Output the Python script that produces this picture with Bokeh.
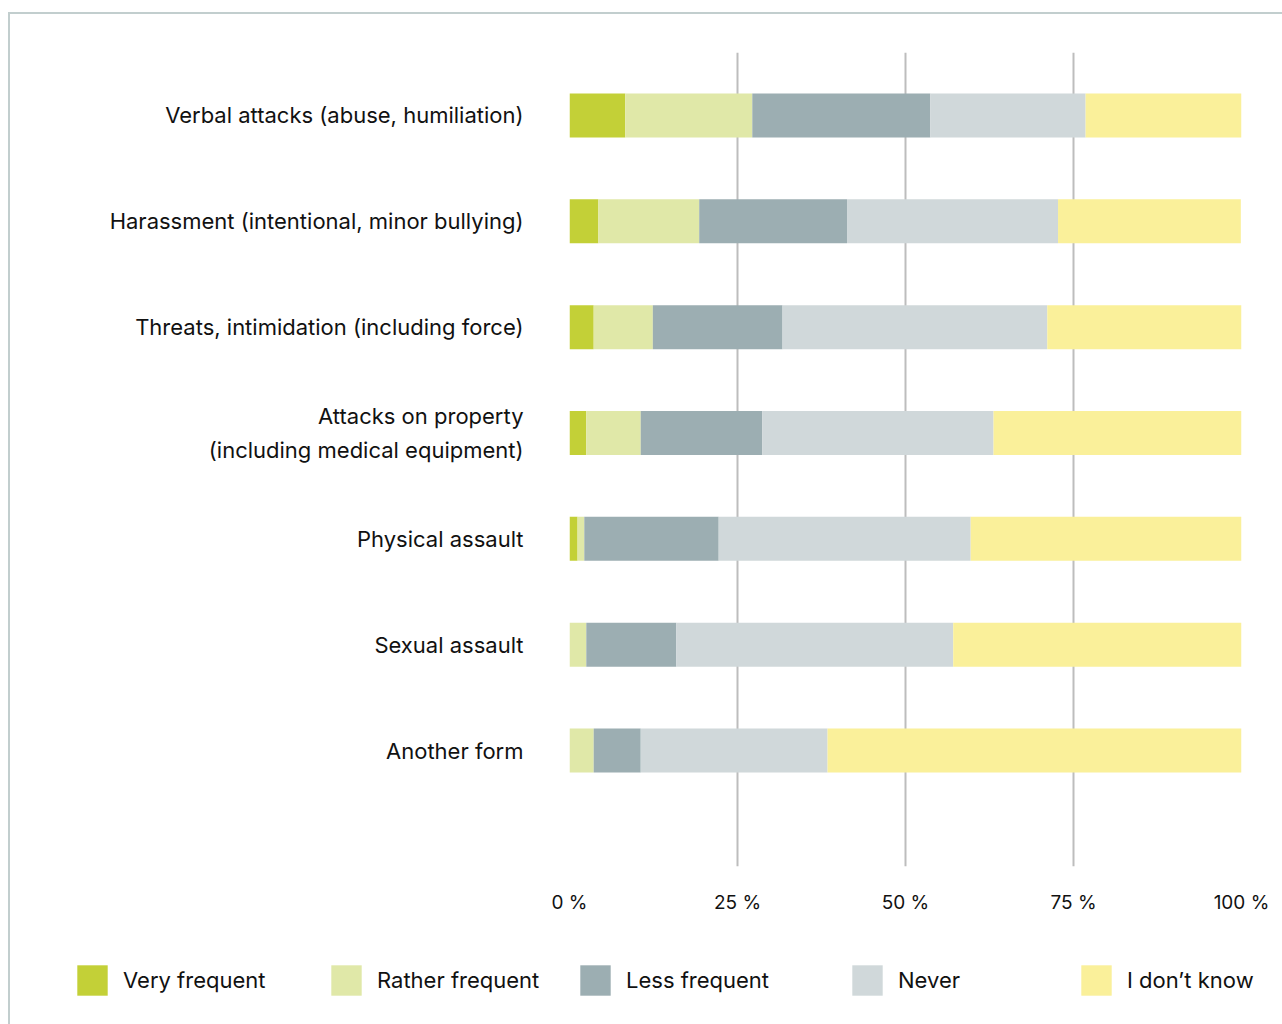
from bokeh.plotting import figure
from bokeh.layouts import column
from bokeh.models import ColumnDataSource, Range1d, FixedTicker, Legend, LegendItem
from bokeh.embed import file_html
from bokeh.resources import INLINE

categories = [
    "Verbal attacks (abuse, humiliation)",
    "Harassment (intentional, minor bullying)",
    "Threats, intimidation (including force)",
    "Attacks on property\n(including medical equipment)",
    "Physical assault",
    "Sexual assault",
    "Another form",
]
very_frequent = [8.3, 4.3, 3.6, 2.5, 1.2, 0.0, 0.0]
rather_frequent = [18.9, 15.0, 8.8, 8.1, 1.0, 2.5, 3.6]
less_frequent = [26.5, 22.0, 19.3, 18.1, 20.0, 13.4, 7.0]
never = [23.1, 31.4, 39.4, 34.4, 37.5, 41.2, 27.8]
dont_know = [23.2, 27.2, 28.9, 36.9, 40.3, 42.9, 61.6]
series_names = ["Very frequent", "Rather frequent", "Less frequent", "Never", "I don\u2019t know"]
x_ticks = [0, 25, 50, 75, 100]
x_tick_labels = ["0 %", "25 %", "50 %", "75 %", "100 %"]

colors = ["#c3d037", "#e0e8a8", "#9caeb2", "#d0d8da", "#faf09a"]
FONT = "Inter"
TEXT = "#111111"

keys = ["vf", "rf", "lf", "nv", "dk"]
source = ColumnDataSource(dict(
    y=list(range(len(categories))),
    vf=very_frequent, rf=rather_frequent, lf=less_frequent, nv=never, dk=dont_know,
))

W = 1272
p = figure(width=W, height=910, output_backend="svg", toolbar_location=None,
           x_range=Range1d(0, 100), y_range=Range1d(len(categories) - 1 + 1.096, -0.595),
           min_border_left=559, min_border_right=41, min_border_top=38, min_border_bottom=58)
p.outline_line_color = None
p.border_fill_color = "white"
p.frame_align = False

p.hbar_stack(keys, y="y", height=0.416, color=colors, line_color=None, source=source)

p.xaxis.ticker = FixedTicker(ticks=x_ticks)
p.xaxis.major_label_overrides = {t: l for t, l in zip(x_ticks, x_tick_labels)}
p.xaxis.axis_line_color = None
p.xaxis.major_tick_line_color = None
p.xaxis.minor_tick_line_color = None
p.xaxis.major_tick_out = 0
p.xaxis.major_label_standoff = 24
p.xaxis.major_label_text_font = FONT
p.xaxis.major_label_text_font_size = "19px"
p.xaxis.major_label_text_color = TEXT

p.yaxis.ticker = FixedTicker(ticks=list(range(len(categories))))
p.yaxis.major_label_overrides = {i: c for i, c in enumerate(categories)}
p.yaxis.axis_line_color = None
p.yaxis.major_tick_line_color = None
p.yaxis.minor_tick_line_color = None
p.yaxis.major_tick_out = 0
p.yaxis.major_label_standoff = 46
p.yaxis.major_label_text_font = FONT
p.yaxis.major_label_text_font_size = "22px"
p.yaxis.major_label_text_line_height = 1.3
p.yaxis.major_label_text_color = TEXT

p.ygrid.grid_line_color = None
p.xgrid.ticker = FixedTicker(ticks=x_ticks)
p.xgrid.grid_line_color = "#bdbdbd"
p.xgrid.grid_line_width = 2

# legend strip: same stacked bars, kept out of its view, only their legend entries show
pl = figure(width=W, height=100, output_backend="svg", toolbar_location=None,
            x_axis_type=None, y_axis_type=None, x_range=Range1d(0, 100),
            y_range=Range1d(1000, 1001), min_border=0)
pl.outline_line_color = None
pl.xgrid.grid_line_color = None
pl.ygrid.grid_line_color = None
pl.frame_align = False
dummy = pl.hbar_stack(keys, y="y", height=0.416, color=colors, line_color=None, source=source)

offsets = [63, 317, 566, 838, 1067]
for r, name, dx in zip(dummy, series_names, offsets):
    lg = Legend(items=[LegendItem(label=name, renderers=[r])], location=(dx, 25),
                orientation="horizontal", padding=0, margin=0, border_line_color=None,
                background_fill_alpha=0, glyph_width=38, glyph_height=38,
                label_standoff=12, label_text_font=FONT, label_text_font_size="22px",
                label_text_color=TEXT)
    pl.add_layout(lg, "center")

layout = column(p, pl, spacing=0)
layout.styles = {"border-left": "2px solid #c2cece", "border-top": "2px solid #c2cece",
                 "margin-left": "8px", "margin-top": "12px"}

open("out.html", "w").write(file_html(layout, INLINE))
